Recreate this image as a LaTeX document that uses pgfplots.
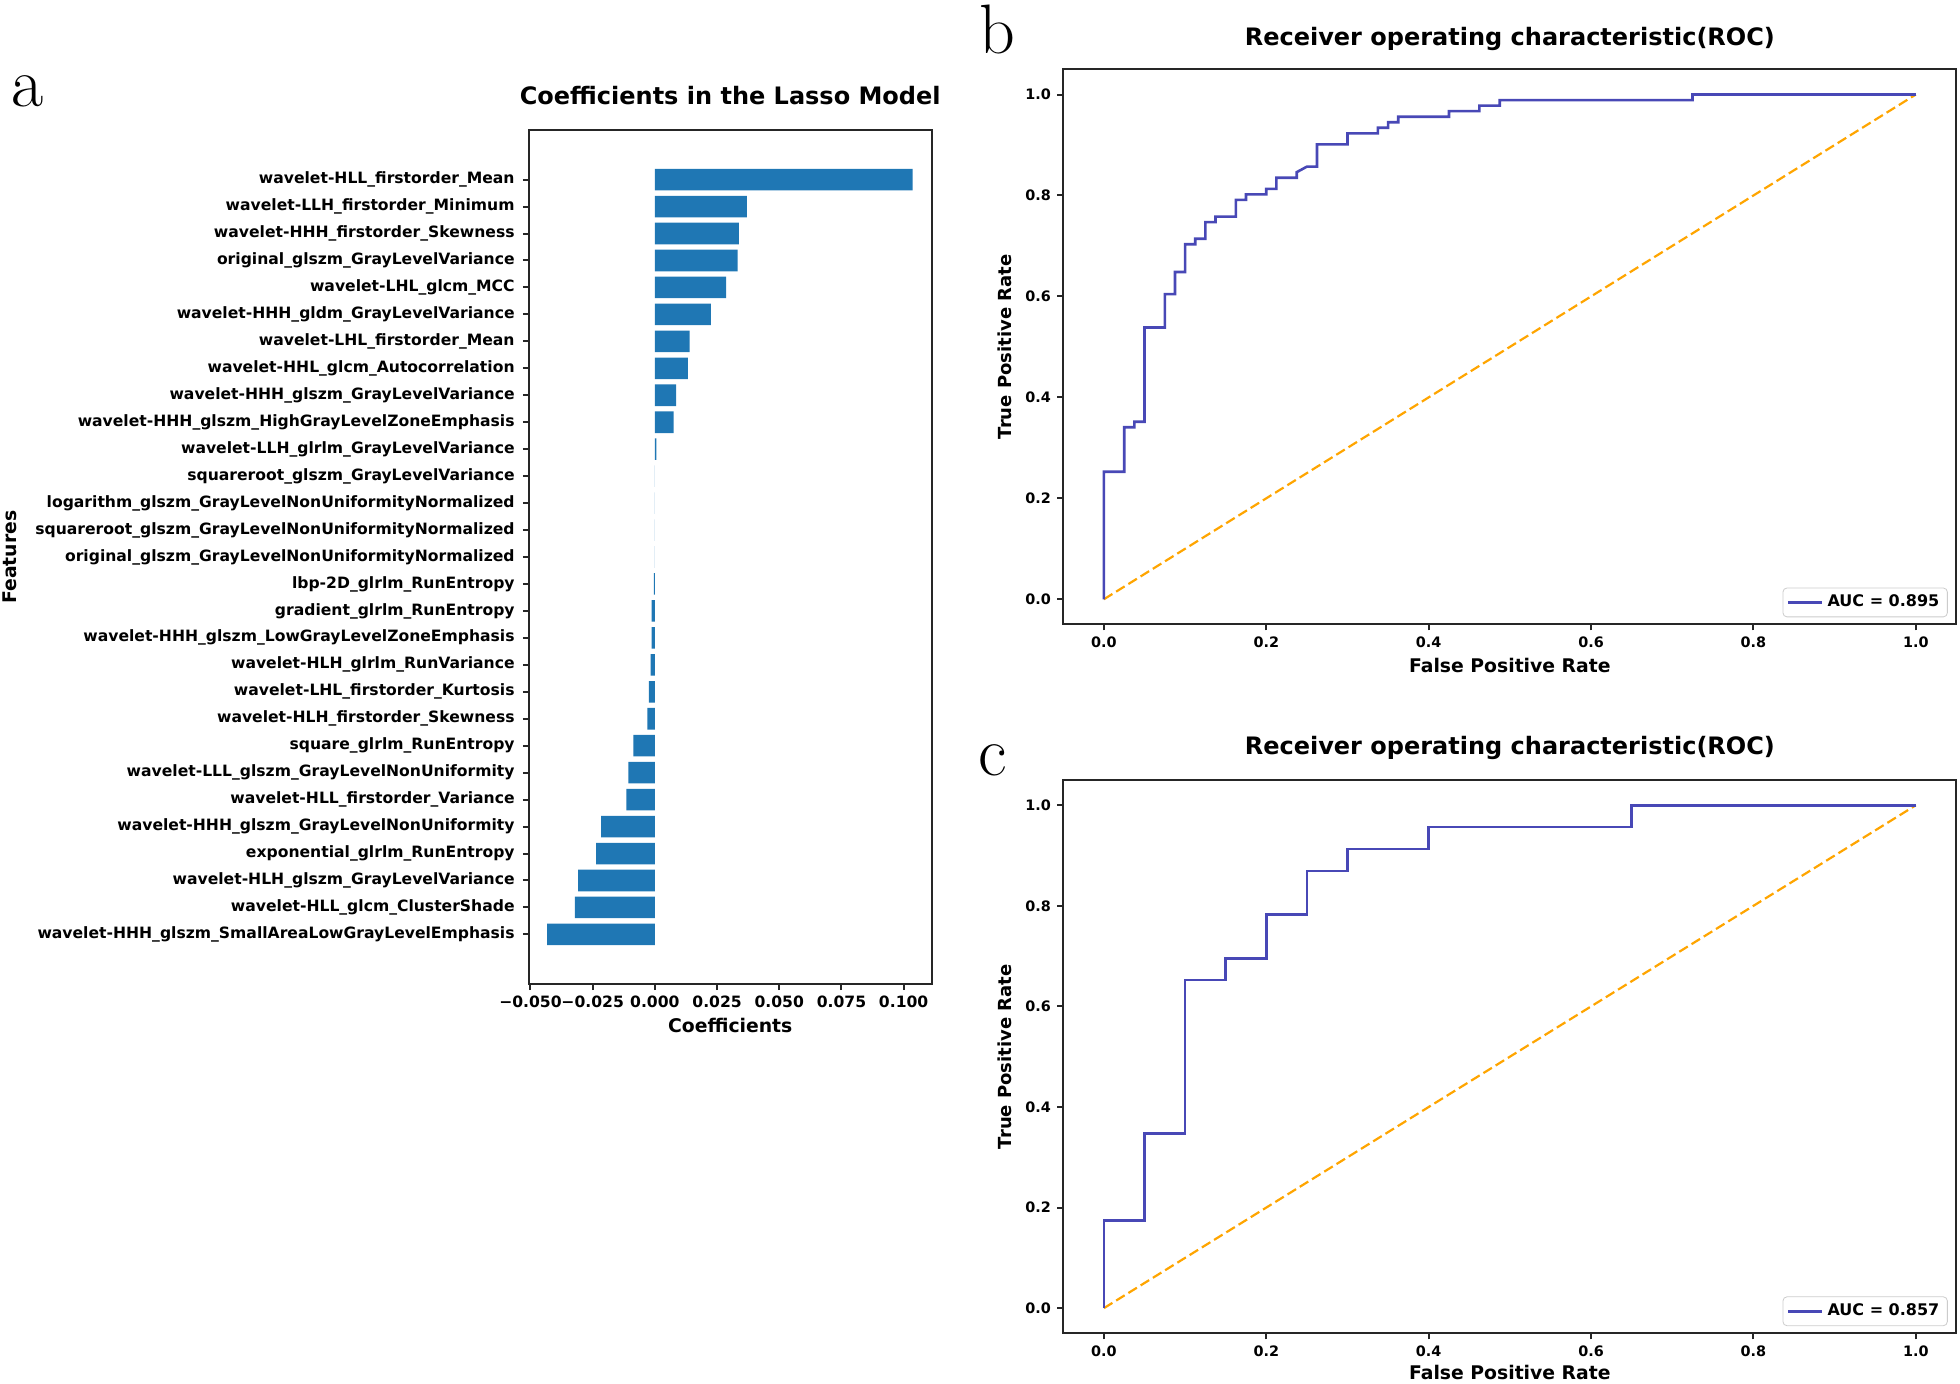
\documentclass[border=0pt]{standalone}
\usepackage{pgfplots}
\usepackage{pgfplotstable}
\pgfplotsset{compat=1.18}
\usepackage{fontspec}
\newfontfamily\djv{DejaVu Sans}
\definecolor{tabblue}{HTML}{1F77B4}
\definecolor{rocblue}{RGB}{72,72,182}
\definecolor{rocorange}{HTML}{FFA500}
\newcommand\tickfont{\djv\bfseries\fontsize{7.8}{9}\selectfont}
\newcommand\roctickfont{\djv\bfseries\fontsize{7.2}{8.6}\selectfont}
\newcommand\labfont{\djv\bfseries\fontsize{9.4}{11}\selectfont}
\newcommand\titfont{\djv\bfseries\fontsize{12}{14}\selectfont}

\pgfplotstableread{
i v
0 0.1036
1 0.0370
2 0.0338
3 0.0333
4 0.0286
5 0.0225
6 0.0140
7 0.0133
8 0.0085
9 0.0075
10 0.0006
11 0
12 0
13 0
14 0
15 -0.0004
16 -0.0013
17 -0.0013
18 -0.0017
19 -0.0024
20 -0.0030
21 -0.0086
22 -0.0107
23 -0.0115
24 -0.0216
25 -0.0236
26 -0.0309
27 -0.0322
28 -0.0433
}\lasso

\pgfplotsset{
  mpl/.style={
    scale only axis,
    axis line style={black!85, line width=1pt},
    every tick/.style={black!85, line width=1pt},
    tick align=outside,
    major tick length=3pt,
    xtick pos=bottom, ytick pos=left,
  },
}

\begin{document}
\begin{tikzpicture}
\useasboundingbox (0,0) rectangle (980pt,691.5pt);

% panel letters
\node[font=\rmfamily\fontsize{35}{35}\selectfont, inner sep=0pt] at (13.75pt,645.75pt) {a};
\node[font=\rmfamily\fontsize{35}{35}\selectfont, inner sep=0pt] at (498.5pt,676.5pt) {b};
\node[font=\rmfamily\fontsize{35}{35}\selectfont, inner sep=0pt] at (496.5pt,311.2pt) {c};

% ---------------- a: Lasso coefficients ----------------
\begin{axis}[mpl,
  at={(264.5pt,199.5pt)}, anchor=south west,
  width=201.25pt, height=427pt,
  xmin=-0.0506, xmax=0.1112,
  ymin=-1.84, ymax=29.84, y dir=reverse,
  xbar, bar width=0.8,
  xtick={-0.05,-0.025,0,0.025,0.05,0.075,0.1},
  xticklabels={−0.050,−0.025,0.000,0.025,0.050,0.075,0.100},
  ytick={0,...,28},
  yticklabels={
    wavelet-HLL\_firstorder\_Mean,
    wavelet-LLH\_firstorder\_Minimum,
    wavelet-HHH\_firstorder\_Skewness,
    original\_glszm\_GrayLevelVariance,
    wavelet-LHL\_glcm\_MCC,
    wavelet-HHH\_gldm\_GrayLevelVariance,
    wavelet-LHL\_firstorder\_Mean,
    wavelet-HHL\_glcm\_Autocorrelation,
    wavelet-HHH\_glszm\_GrayLevelVariance,
    wavelet-HHH\_glszm\_HighGrayLevelZoneEmphasis,
    wavelet-LLH\_glrlm\_GrayLevelVariance,
    squareroot\_glszm\_GrayLevelVariance,
    logarithm\_glszm\_GrayLevelNonUniformityNormalized,
    squareroot\_glszm\_GrayLevelNonUniformityNormalized,
    original\_glszm\_GrayLevelNonUniformityNormalized,
    lbp-2D\_glrlm\_RunEntropy,
    gradient\_glrlm\_RunEntropy,
    wavelet-HHH\_glszm\_LowGrayLevelZoneEmphasis,
    wavelet-HLH\_glrlm\_RunVariance,
    wavelet-LHL\_firstorder\_Kurtosis,
    wavelet-HLH\_firstorder\_Skewness,
    square\_glrlm\_RunEntropy,
    wavelet-LLL\_glszm\_GrayLevelNonUniformity,
    wavelet-HLL\_firstorder\_Variance,
    wavelet-HHH\_glszm\_GrayLevelNonUniformity,
    exponential\_glrlm\_RunEntropy,
    wavelet-HLH\_glszm\_GrayLevelVariance,
    wavelet-HLL\_glcm\_ClusterShade,
    wavelet-HHH\_glszm\_SmallAreaLowGrayLevelEmphasis},
  xticklabel style={font=\tickfont, anchor=center, inner sep=0pt, yshift=-6pt},
  yticklabel style={font=\tickfont, anchor=east, inner sep=0pt, xshift=-4pt},
  title={Coefficients in the Lasso Model},
  every axis title/.style={at={(axis description cs:0.5,1.0398)}, anchor=center, font=\titfont},
  xlabel={Coefficients},
  every axis x label/.style={at={(axis description cs:0.5,-0.048)}, anchor=center, font=\labfont},
  ylabel={Features},
  every axis y label/.style={at={(axis description cs:-1.2894,0.5)}, rotate=90, anchor=center, font=\labfont},
]
\addplot[fill=tabblue, draw=none] table[x=v, y=i] {\lasso};
\end{axis}

% ---------------- b: ROC ----------------
\begin{axis}[mpl,
  at={(531.65pt,379.25pt)}, anchor=south west,
  width=446.55pt, height=277.6pt,
  xmin=-0.05, xmax=1.05, ymin=-0.05, ymax=1.05,
  xtick={0,0.2,0.4,0.6,0.8,1}, xticklabels={0.0,0.2,0.4,0.6,0.8,1.0},
  ytick={0,0.2,0.4,0.6,0.8,1}, yticklabels={0.0,0.2,0.4,0.6,0.8,1.0},
  xticklabel style={font=\roctickfont, anchor=center, inner sep=0pt, yshift=-6.1pt},
  yticklabel style={font=\roctickfont, anchor=east, inner sep=0pt, xshift=-3pt},
  title={Receiver operating characteristic(ROC)},
  every axis title/.style={at={(axis description cs:0.5,1.055)}, anchor=center, font=\titfont},
  xlabel={False Positive Rate},
  every axis x label/.style={at={(axis description cs:0.5,-0.073)}, anchor=center, font=\labfont},
  ylabel={True Positive Rate},
  every axis y label/.style={at={(axis description cs:-0.065,0.5)}, rotate=90, anchor=center, font=\djv\bfseries\fontsize{9}{10.5}\selectfont},
  legend style={at={(axis description cs:0.9903,0.013)}, anchor=south east, draw=black!20, rounded corners=2pt, fill=white, font=\djv\bfseries\fontsize{8}{9.6}\selectfont, inner xsep=2pt, inner ysep=1.5pt},
  legend image code/.code={\draw[#1] (0pt,0pt) -- (17pt,0pt);},
]
\addplot[rocorange, line width=1.1pt, dash pattern=on 5pt off 2.2pt, forget plot] coordinates {(0,0) (1,1)};
\addplot[rocblue, line width=1.3pt] coordinates {
(0,0) (0,0.2527) (0.025,0.2527) (0.025,0.3407) (0.0375,0.3407) (0.0375,0.3516)
(0.05,0.3516) (0.05,0.5385) (0.075,0.5385) (0.075,0.6044) (0.0875,0.6044) (0.0875,0.6484)
(0.1,0.6484) (0.1,0.7033) (0.1125,0.7033) (0.1125,0.7143) (0.125,0.7143) (0.125,0.7473)
(0.1375,0.7473) (0.1375,0.7582) (0.1625,0.7582) (0.1625,0.7912) (0.175,0.7912) (0.175,0.8022)
(0.2,0.8022) (0.2,0.8132) (0.2125,0.8132) (0.2125,0.8352) (0.2375,0.8352) (0.2375,0.8462)
(0.25,0.8571) (0.2625,0.8571) (0.2625,0.9011) (0.3,0.9011) (0.3,0.9231) (0.3375,0.9231)
(0.3375,0.9341) (0.35,0.9341) (0.35,0.9451) (0.3625,0.9451) (0.3625,0.9560) (0.425,0.9560)
(0.425,0.9670) (0.4625,0.9670) (0.4625,0.9780) (0.4875,0.9780) (0.4875,0.9890) (0.725,0.9890)
(0.725,1) (1,1)};
\addlegendentry{AUC = 0.895}
\end{axis}

% ---------------- c: ROC ----------------
\begin{axis}[mpl,
  at={(531.65pt,24.85pt)}, anchor=south west,
  width=446.55pt, height=276.6pt,
  xmin=-0.05, xmax=1.05, ymin=-0.05, ymax=1.05,
  xtick={0,0.2,0.4,0.6,0.8,1}, xticklabels={0.0,0.2,0.4,0.6,0.8,1.0},
  ytick={0,0.2,0.4,0.6,0.8,1}, yticklabels={0.0,0.2,0.4,0.6,0.8,1.0},
  xticklabel style={font=\roctickfont, anchor=center, inner sep=0pt, yshift=-6.2pt},
  yticklabel style={font=\roctickfont, anchor=east, inner sep=0pt, xshift=-3pt},
  title={Receiver operating characteristic(ROC)},
  every axis title/.style={at={(axis description cs:0.5,1.058)}, anchor=center, font=\titfont},
  xlabel={False Positive Rate},
  every axis x label/.style={at={(axis description cs:0.5,-0.0717)}, anchor=center, font=\labfont},
  ylabel={True Positive Rate},
  every axis y label/.style={at={(axis description cs:-0.065,0.5)}, rotate=90, anchor=center, font=\djv\bfseries\fontsize{9}{10.5}\selectfont},
  legend style={at={(axis description cs:0.9903,0.013)}, anchor=south east, draw=black!20, rounded corners=2pt, fill=white, font=\djv\bfseries\fontsize{8}{9.6}\selectfont, inner xsep=2pt, inner ysep=1.5pt},
  legend image code/.code={\draw[#1] (0pt,0pt) -- (17pt,0pt);},
]
\addplot[rocorange, line width=1.1pt, dash pattern=on 5pt off 2.2pt, forget plot] coordinates {(0,0) (1,1)};
\addplot[rocblue, line width=1.3pt] coordinates {
(0,0) (0,0.1739) (0.05,0.1739) (0.05,0.3478) (0.1,0.3478) (0.1,0.6522)
(0.15,0.6522) (0.15,0.6957) (0.2,0.6957) (0.2,0.7826) (0.25,0.7826) (0.25,0.8696)
(0.3,0.8696) (0.3,0.9130) (0.4,0.9130) (0.4,0.9565) (0.65,0.9565) (0.65,1) (1,1)};
\addlegendentry{AUC = 0.857}
\end{axis}
\end{tikzpicture}
\end{document}
